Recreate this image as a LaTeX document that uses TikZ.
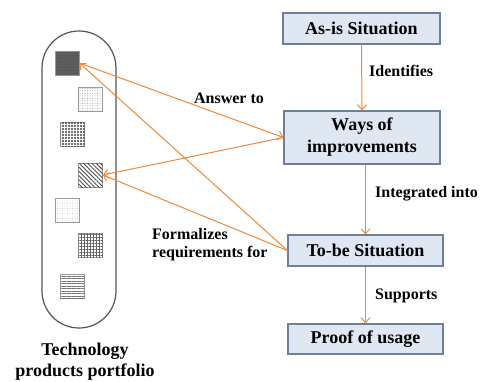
\documentclass[tikz,border=0pt]{standalone}
\usepackage{fontspec}
\setmainfont{Liberation Serif}
\usetikzlibrary{arrows.meta,patterns.meta,calc}
\definecolor{boxfill}{HTML}{DEE7F2}
\definecolor{boxline}{HTML}{6F7F98}
\definecolor{arr}{HTML}{F0883A}
\definecolor{capline}{HTML}{555555}
\begin{document}
\begin{tikzpicture}[x=1pt,y=-1pt,
  stepbox/.style={draw=boxline,line width=1.2pt,fill=boxfill,inner sep=0pt,
     font=\fontsize{18}{22}\selectfont\bfseries,align=center},
  lbl/.style={font=\fontsize{16}{18}\selectfont\bfseries,inner sep=0pt},
  conn/.style={draw=arr,line width=1pt,-{Straight Barb[length=5pt,width=9pt]}},
  sq/.style={draw=gray!80,line width=0.8pt,minimum size=24pt,inner sep=0pt}]
\useasboundingbox (0,0) rectangle (480,381);
% capsule
\draw[capline,line width=1.2pt,rounded corners=37pt] (42,31) rectangle (116,328);
% squares
\node[sq,fill=gray!70!black,postaction={pattern={Dots[distance=3pt,radius=0.6pt]},pattern color=gray!90!black}] (s1) at (67,63) {};
\node[sq,fill=white,postaction={pattern={Dots[distance=2.5pt,radius=0.5pt]},pattern color=gray!80}] (s2) at (90.5,99) {};
\node[sq,fill=white,postaction={pattern={Dots[distance=3pt,radius=1.1pt]},pattern color=black!75}] (s3) at (72.5,134.5) {};
\node[sq,fill=white,postaction={pattern={Lines[angle=-45,distance=3pt,line width=1pt]},pattern color=black!70}] (s4) at (90.5,175) {};
\node[sq,fill=white,postaction={pattern={Dots[distance=2.5pt,radius=0.4pt]},pattern color=gray!60}] (s5) at (67,210.5) {};
\node[sq,fill=white,postaction={pattern={Hatch[angle=0,distance=3pt,line width=0.5pt]},pattern color=black!60}] (s6) at (90.5,245.5) {};
\node[sq,fill=white,postaction={pattern={Lines[angle=0,distance=2.5pt,line width=0.5pt]},pattern color=black!55}] (s7) at (72.5,286.5) {};
\node[font=\fontsize{18}{21}\selectfont\bfseries,align=center,inner sep=0pt] (port) at (85,362) {Technology\\products portfolio};
% boxes
\node[stepbox,minimum width=157pt,minimum height=31pt] (asis) at (361.5,28.5) {As-is Situation};
\node[stepbox,minimum width=156pt,minimum height=53pt] (ways) at (362,137.5) {Ways of\\improvements};
\node[stepbox,minimum width=155pt,minimum height=31pt] (tobe) at (365.5,250.5) {To-be Situation};
\node[stepbox,minimum width=155pt,minimum height=30pt] (proof) at (365.5,339) {Proof of usage};
% vertical connectors
\draw[conn] (asis.south) -- (ways.north);
\draw[conn] (tobe.north |- ways.south) -- (tobe.north);
\draw[conn] (tobe.south) -- (proof.north);
\node[lbl,anchor=west] (l1) at (369,71) {Identifies};
\node[lbl,anchor=west] (l2) at (375,194) {Integrated into};
\node[lbl,anchor=west] (l3) at (375,296) {Supports};
% cross connectors
\draw[conn] (s1.east) -- (ways.west);
\draw[conn] (ways.west) -- (s4.east);
\draw[conn] (tobe.west) -- (s1.east);
\draw[conn] (tobe.west) -- (s4.east);
\node[lbl] (l4) at (229,98) {Answer to};
\node[lbl,anchor=west,align=left,font=\fontsize{16}{18}\selectfont\bfseries] (l5) at (152,245) {Formalizes\\requirements for};
\end{tikzpicture}
\end{document}
